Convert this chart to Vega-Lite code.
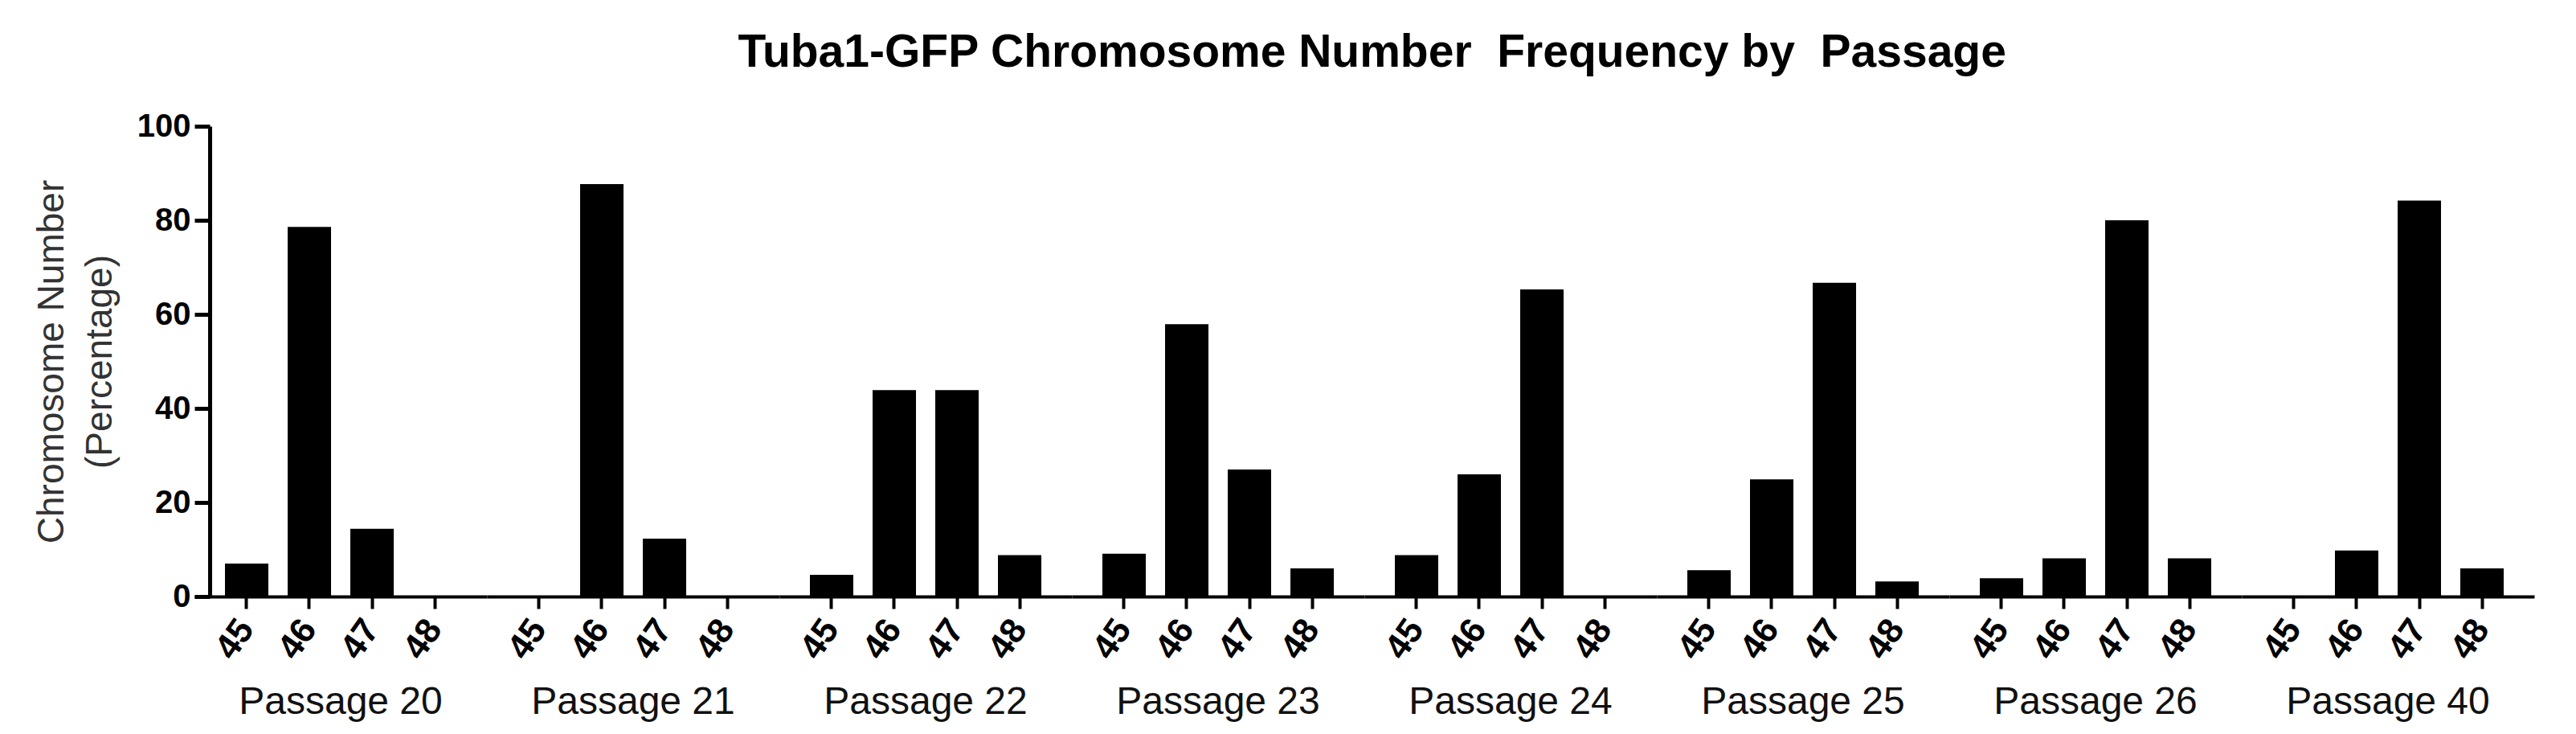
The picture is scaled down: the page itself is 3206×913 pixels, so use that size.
{
  "$schema": "https://vega.github.io/schema/vega-lite/v6.json",
  "background": "white",
  "padding": {"left": 41, "top": 37, "right": 5, "bottom": 5},
  "title": {"text": "Tuba1-GFP Chromosome Number\u00a0 Frequency by\u00a0 Passage", "font": "Liberation Sans", "fontSize": 57, "fontWeight": "bold", "color": "black", "anchor": "middle", "offset": 42, "dx": 110},
  "data": {"values": [
    {"passage": "Passage 20", "chrom": "45", "pct": 7.0},
    {"passage": "Passage 20", "chrom": "46", "pct": 78.6},
    {"passage": "Passage 20", "chrom": "47", "pct": 14.4},
    {"passage": "Passage 20", "chrom": "48", "pct": 0},
    {"passage": "Passage 21", "chrom": "45", "pct": 0},
    {"passage": "Passage 21", "chrom": "46", "pct": 87.7},
    {"passage": "Passage 21", "chrom": "47", "pct": 12.3},
    {"passage": "Passage 21", "chrom": "48", "pct": 0},
    {"passage": "Passage 22", "chrom": "45", "pct": 4.6},
    {"passage": "Passage 22", "chrom": "46", "pct": 43.9},
    {"passage": "Passage 22", "chrom": "47", "pct": 43.9},
    {"passage": "Passage 22", "chrom": "48", "pct": 8.8},
    {"passage": "Passage 23", "chrom": "45", "pct": 9.1},
    {"passage": "Passage 23", "chrom": "46", "pct": 57.9},
    {"passage": "Passage 23", "chrom": "47", "pct": 27.0},
    {"passage": "Passage 23", "chrom": "48", "pct": 6.0},
    {"passage": "Passage 24", "chrom": "45", "pct": 8.8},
    {"passage": "Passage 24", "chrom": "46", "pct": 26.0},
    {"passage": "Passage 24", "chrom": "47", "pct": 65.3},
    {"passage": "Passage 24", "chrom": "48", "pct": 0},
    {"passage": "Passage 25", "chrom": "45", "pct": 5.6},
    {"passage": "Passage 25", "chrom": "46", "pct": 24.9},
    {"passage": "Passage 25", "chrom": "47", "pct": 66.7},
    {"passage": "Passage 25", "chrom": "48", "pct": 3.2},
    {"passage": "Passage 26", "chrom": "45", "pct": 3.9},
    {"passage": "Passage 26", "chrom": "46", "pct": 8.1},
    {"passage": "Passage 26", "chrom": "47", "pct": 80.0},
    {"passage": "Passage 26", "chrom": "48", "pct": 8.1},
    {"passage": "Passage 40", "chrom": "45", "pct": 0},
    {"passage": "Passage 40", "chrom": "46", "pct": 9.8},
    {"passage": "Passage 40", "chrom": "47", "pct": 84.2},
    {"passage": "Passage 40", "chrom": "48", "pct": 6.0}
  ]},
  "facet": {"column": {"field": "passage", "type": "nominal",
    "sort": ["Passage 20", "Passage 21", "Passage 22", "Passage 23", "Passage 24", "Passage 25", "Passage 26", "Passage 40"],
    "header": {"title": null, "labelOrient": "bottom", "labelFont": "Liberation Sans", "labelFontSize": 48, "labelColor": "#111111", "labelPadding": 22}}},
  "spacing": 0,
  "spec": {
    "width": 364,
    "height": 585,
    "mark": {"type": "bar", "color": "black"},
    "encoding": {
      "x": {"field": "chrom", "type": "nominal", "sort": ["45", "46", "47", "48"],
        "scale": {"paddingInner": 0.3077, "paddingOuter": 0.487},
        "axis": {"title": null, "tickSize": 15, "tickWidth": 4, "domainWidth": 4, "domainColor": "black", "tickColor": "black",
          "labelAngle": -55, "labelFont": "Liberation Sans", "labelFontSize": 44, "labelFontWeight": "bold", "labelColor": "black", "labelPadding": 18}},
      "y": {"field": "pct", "type": "quantitative", "scale": {"domain": [0, 100]},
        "axis": {"title": ["Chromosome Number", "(Percentage)"], "values": [0, 20, 40, 60, 80, 100], "grid": false, "offset": -19,
          "tickSize": 19, "tickWidth": 5, "domainWidth": 5, "domainColor": "black", "tickColor": "black",
          "labelFont": "Liberation Sans", "labelFontSize": 40, "labelFontWeight": "bold", "labelColor": "black", "labelPadding": 5,
          "titleFont": "Liberation Sans", "titleFontSize": 46, "titleFontWeight": "normal", "titleColor": "#333333", "titleLineHeight": 60, "titlePadding": 22}}
    }
  },
  "config": {"view": {"stroke": null}}
}
